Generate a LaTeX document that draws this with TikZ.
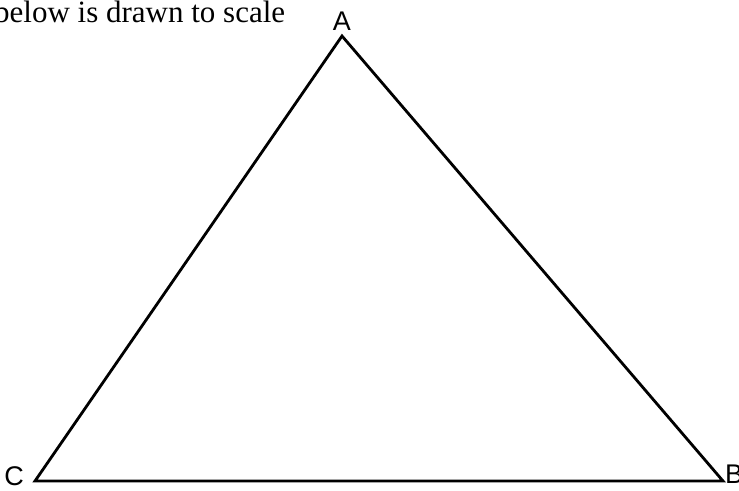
\documentclass[tikz,border=0pt]{standalone}
\usepackage{fontspec}
\setmainfont{Liberation Serif}
\newfontfamily\labelfont{Liberation Sans}
\usetikzlibrary{positioning}
\tikzset{
  side/.style={draw=black, line width=2.8pt, line join=miter},
  vertexlabel/.style={font=\labelfont\fontsize{27}{27}\selectfont, inner sep=0pt},
  captiontext/.style={font=\fontsize{31}{31}\selectfont, anchor=base west, inner sep=0pt},
}

\begin{document}
\begin{tikzpicture}[x=1pt, y=-1pt]
  \useasboundingbox (0,0) rectangle (739,490);

  % triangle
  \coordinate (A) at (342,36);
  \coordinate (C) at (35,481);
  \coordinate (B) at (723,481);
  \draw[side] (A) -- (B) -- (C) -- cycle;

  \node[vertexlabel, above=5pt of A] (labA) {A};
  \node[vertexlabel, left=11pt of C, yshift=5pt] (labC) {C};
  \node[vertexlabel, right=2pt of B, yshift=7pt] (labB) {B};

  \node[captiontext] (caption) at (-6,22) {below is drawn to scale};
\end{tikzpicture}
\end{document}
